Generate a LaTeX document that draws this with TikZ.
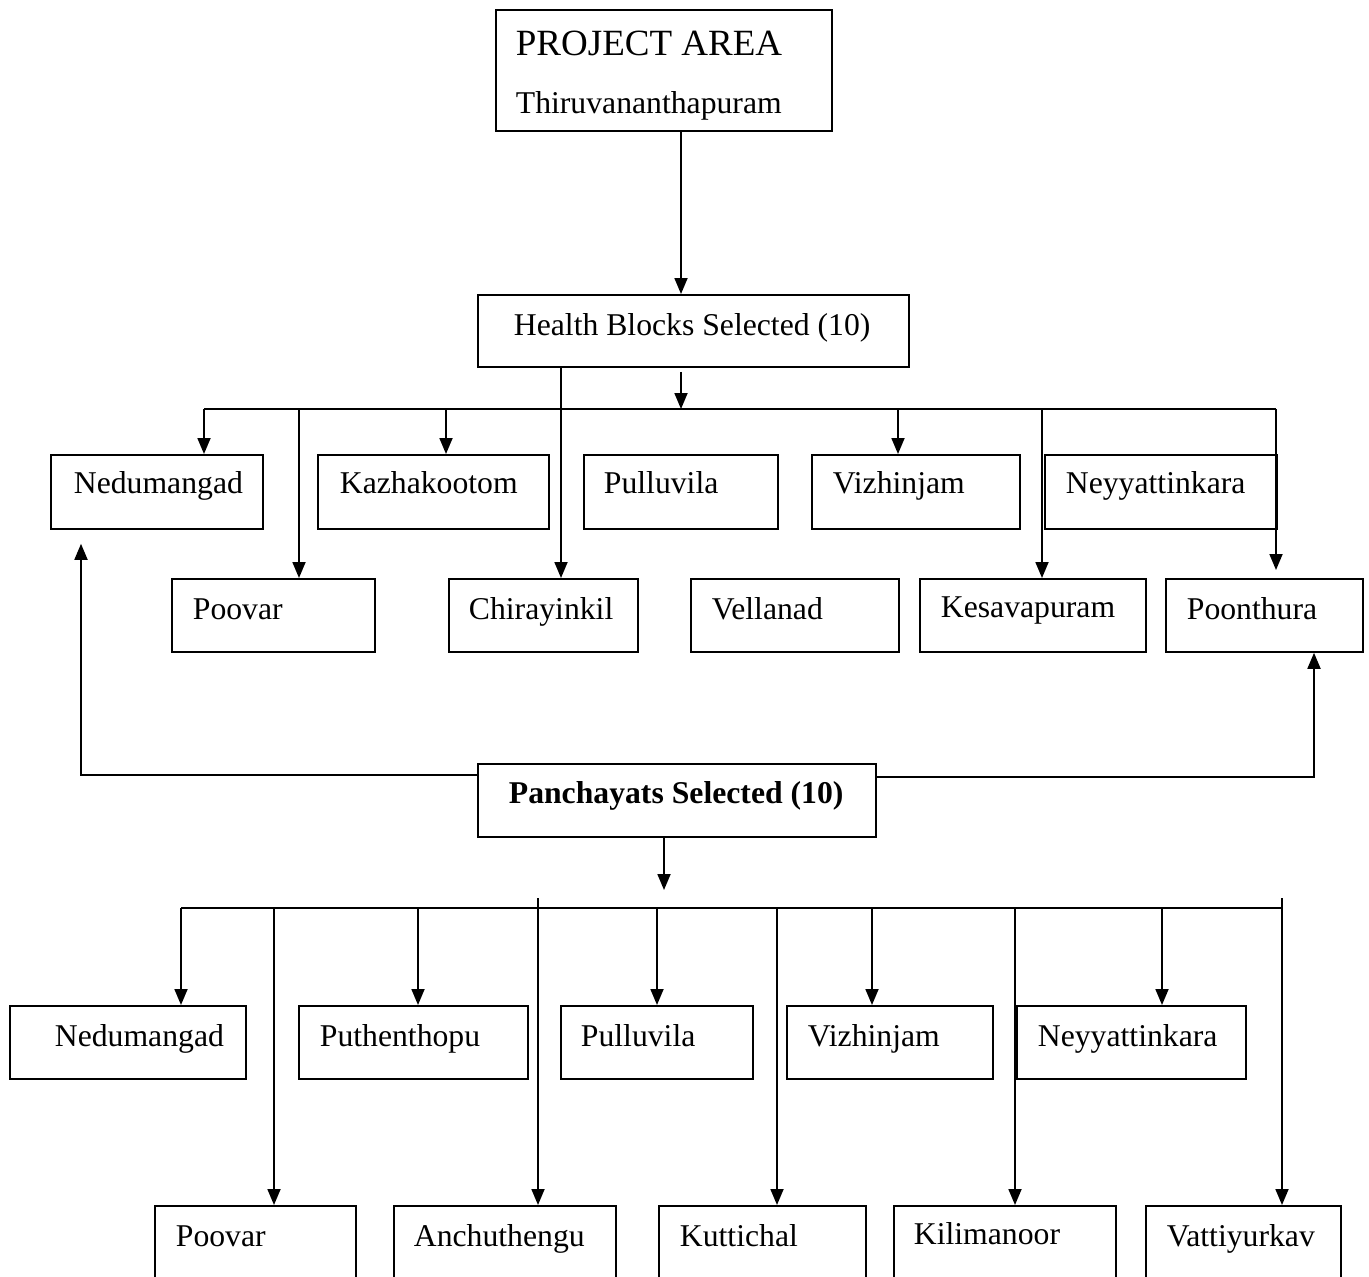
\documentclass[tikz,border=0pt]{standalone}
\usepackage{fontspec}
\setmainfont{Liberation Serif}
\usetikzlibrary{arrows.meta, positioning, calc}

\begin{document}
\begin{tikzpicture}[x=1pt, y=-1pt, line width=1.8pt,
                font={\fontsize{31.7}{38}\selectfont},
                blk/.style={draw, anchor=north west, inner sep=0pt},
                lbl/.style={anchor=base west, inner sep=0pt},
                arr/.style={-{Triangle[length=16pt, width=13pt]}}]

                \clip (0,0) rectangle (1369,1277);

                % Project area
                \node[blk, minimum width=336pt, minimum height=121pt] (area) at (495,9) {};
                \node[lbl, font={\fontsize{37}{44}\selectfont}] at ($(area.north west)+(20,46)$) {PROJECT AREA};
                \node[lbl] at ($(area.north west)+(20,104)$) {Thiruvananthapuram};

                % Health blocks
                \node[blk, minimum width=431pt, minimum height=72pt] (hb) at (477,294) {};
                \node[lbl] at ($(hb.north west)+(36,41)$) {Health Blocks Selected (10)};

                \node[blk, minimum width=212pt, minimum height=74pt] (ned1) at (50,454) {};
                \node[lbl] at ($(ned1.north west)+(23,39)$) {Nedumangad};
                \node[blk, minimum width=231pt, minimum height=74pt] (kaz1) at (317,454) {};
                \node[lbl] at ($(kaz1.north west)+(22,39)$) {Kazhakootom};
                \node[blk, minimum width=194pt, minimum height=74pt] (pul1) at (583,454) {};
                \node[lbl] at ($(pul1.north west)+(20,39)$) {Pulluvila};
                \node[blk, minimum width=208pt, minimum height=74pt] (viz1) at (811,454) {};
                \node[lbl] at ($(viz1.north west)+(21,39)$) {Vizhinjam};
                \node[blk, minimum width=232pt, minimum height=74pt] (ney1) at (1044,454) {};
                \node[lbl] at ($(ney1.north west)+(21,39)$) {Neyyattinkara};

                \node[blk, minimum width=203pt, minimum height=73pt] (poo1) at (171,578) {};
                \node[lbl] at ($(poo1.north west)+(21,41)$) {Poovar};
                \node[blk, minimum width=189pt, minimum height=73pt] (chi1) at (448,578) {};
                \node[lbl] at ($(chi1.north west)+(20,41)$) {Chirayinkil};
                \node[blk, minimum width=208pt, minimum height=73pt] (vel1) at (690,578) {};
                \node[lbl] at ($(vel1.north west)+(21,41)$) {Vellanad};
                \node[blk, minimum width=226pt, minimum height=73pt] (kes1) at (919,578) {};
                \node[lbl] at ($(kes1.north west)+(21,39)$) {Kesavapuram};
                \node[blk, minimum width=197pt, minimum height=73pt] (pon1) at (1165,578) {};
                \node[lbl] at ($(pon1.north west)+(21,41)$) {Poonthura};

                % Panchayats
                \node[blk, minimum width=398pt, minimum height=73pt] (pan) at (477,763) {};
                \node[lbl, font={\fontsize{31.7}{38}\selectfont\bfseries}] at ($(pan.north west)+(31,40)$) {Panchayats Selected (10)};

                \node[blk, minimum width=236pt, minimum height=73pt] (ned2) at (9,1005) {};
                \node[lbl] at ($(ned2.north west)+(45,41)$) {Nedumangad};
                \node[blk, minimum width=229pt, minimum height=73pt] (put2) at (298,1005) {};
                \node[lbl] at ($(put2.north west)+(21,41)$) {Puthenthopu};
                \node[blk, minimum width=192pt, minimum height=73pt] (pul2) at (560,1005) {};
                \node[lbl] at ($(pul2.north west)+(20,41)$) {Pulluvila};
                \node[blk, minimum width=206pt, minimum height=73pt] (viz2) at (786,1005) {};
                \node[lbl] at ($(viz2.north west)+(21,41)$) {Vizhinjam};
                \node[blk, minimum width=229pt, minimum height=73pt] (ney2) at (1016,1005) {};
                \node[lbl] at ($(ney2.north west)+(21,41)$) {Neyyattinkara};

                \node[blk, minimum width=201pt, minimum height=100pt] (poo2) at (154,1205) {};
                \node[lbl] at ($(poo2.north west)+(21,41)$) {Poovar};
                \node[blk, minimum width=222pt, minimum height=100pt] (anc2) at (393,1205) {};
                \node[lbl] at ($(anc2.north west)+(20,41)$) {Anchuthengu};
                \node[blk, minimum width=207pt, minimum height=100pt] (kut2) at (658,1205) {};
                \node[lbl] at ($(kut2.north west)+(21,41)$) {Kuttichal};
                \node[blk, minimum width=222pt, minimum height=100pt] (kil2) at (893,1205) {};
                \node[lbl] at ($(kil2.north west)+(20,39)$) {Kilimanoor};
                \node[blk, minimum width=195pt, minimum height=100pt] (vat2) at (1145,1205) {};
                \node[lbl] at ($(vat2.north west)+(21,41)$) {Vattiyurkav};

                % Connectors to health blocks
                \coordinate (j1) at (681,409);
                \coordinate (bus1w) at (204,409);
                \coordinate (bus1e) at (1276,409);
                \draw[arr] (area.south -| j1) -- (hb.north -| j1);
                \draw[arr] ($(hb.south -| j1)+(0,4)$) -- (j1);
                \draw (bus1w) -- (bus1e);
                \draw[arr] (bus1w) -- (bus1w |- ned1.north);
                \draw[arr] (bus1w -| 446,0) -- (kaz1.north -| 446,0);
                \draw[arr] (bus1w -| 898,0) -- (viz1.north -| 898,0);
                \draw[arr] (bus1w -| 299,0) -- (poo1.north -| 299,0);
                \draw[arr] (hb.south -| 561,0) -- (chi1.north -| 561,0);
                \draw[arr] (bus1w -| 1042,0) -- (kes1.north -| 1042,0);
                \draw[arr] (bus1e) -- ($(bus1e |- pon1.north)+(0,-8)$);

                % Panchayats side links
                \draw[arr] ($(pan.north west)+(0,12)$) -| ($(ned1.south west)+(31,14)$);
                \draw[arr] ($(pan.north east)+(0,14)$) -| ($(pon1.south west)+(149,0)$);

                % Connectors to panchayats
                \coordinate (j2) at (664,890);
                \coordinate (bus2w) at (181,908);
                \coordinate (bus2e) at (1283,908);
                \draw[arr] (pan.south -| j2) -- (j2);
                \draw (bus2w) -- (bus2e);
                \draw[arr] (bus2w) -- (bus2w |- ned2.north);
                \draw[arr] (bus2w -| 418,0) -- (put2.north -| 418,0);
                \draw[arr] (bus2w -| 657,0) -- (pul2.north -| 657,0);
                \draw[arr] (bus2w -| 872,0) -- (viz2.north -| 872,0);
                \draw[arr] (bus2w -| 1162,0) -- (ney2.north -| 1162,0);
                \draw[arr] (bus2w -| 274,0) -- (poo2.north -| 274,0);
                \draw[arr] ($(bus2w -| 538,0)+(0,-10)$) -- (anc2.north -| 538,0);
                \draw[arr] (bus2w -| 777,0) -- (kut2.north -| 777,0);
                \draw[arr] (bus2w -| 1015,0) -- (kil2.north -| 1015,0);
                \draw[arr] ($(bus2w -| 1282,0)+(0,-10)$) -- (vat2.north -| 1282,0);
            \end{tikzpicture}
\end{document}
